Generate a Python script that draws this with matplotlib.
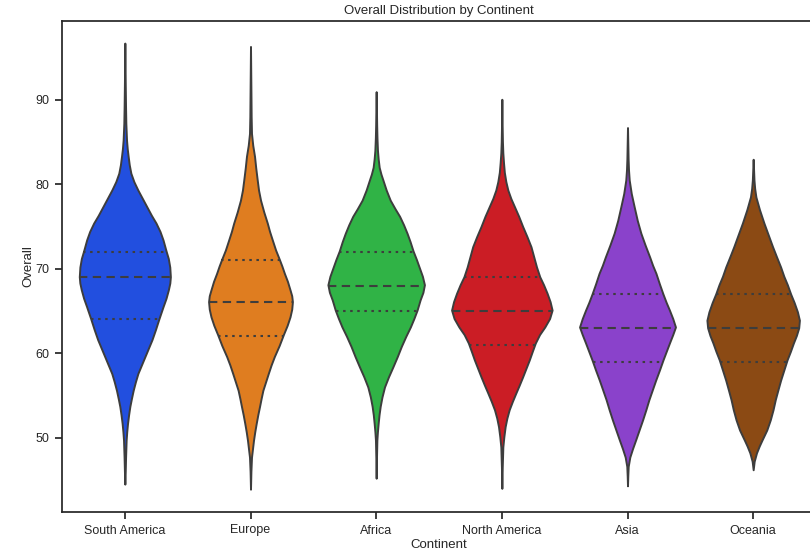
import colorsys
import matplotlib
matplotlib.use("Agg")
import matplotlib.pyplot as plt
import matplotlib.colors as mcolors
import numpy as np

plt.rcParams['font.family'] = ['Liberation Sans', 'DejaVu Sans']

continents = ['South America', 'Europe', 'Africa', 'North America', 'Asia', 'Oceania']

# estimated density profile of "Overall" per continent (relative to the widest)
sa_overall = [44.5, 46.0, 47.7, 49.7, 50.7, 51.7, 52.7, 53.7, 54.6, 55.6, 56.6, 57.6, 58.6, 59.6,
              60.6, 61.6, 62.8, 64.1, 65.5, 66.5, 67.5, 68.3, 69.05, 70.2, 71.2, 72.1, 73.4, 74.4,
              75.4, 76.3, 77.3, 78.3, 79.3, 80.3, 81.3, 82.3, 83.3, 84.2, 85.2, 87.2, 89.2, 92.0, 96.7]
sa_density = [0.0, 0.008, 0.015, 0.026, 0.038, 0.054, 0.075, 0.10, 0.13, 0.166, 0.21, 0.26, 0.33, 0.40,
              0.47, 0.54, 0.61, 0.68, 0.76, 0.82, 0.866, 0.895, 0.906, 0.894, 0.865, 0.82, 0.76, 0.70,
              0.62, 0.53, 0.44, 0.35, 0.26, 0.18, 0.12, 0.088, 0.066, 0.048, 0.034, 0.02, 0.014, 0.008, 0.0]

eu_overall = [43.9, 46.0, 47.7, 48.7, 49.7, 50.7, 51.7, 52.7, 53.7, 54.6, 55.6, 56.6, 57.6, 58.6,
              59.6, 60.9, 62.2, 63.3, 64.3, 65.2, 66.1, 66.8, 67.5, 68.5, 69.45, 70.3, 71.1, 72.2,
              73.4, 74.4, 75.4, 76.7, 78.1, 79.3, 80.5, 81.9, 83.3, 84.6, 86.0, 88.0, 90.0, 96.3]
eu_density = [0.0, 0.008, 0.02, 0.04, 0.06, 0.085, 0.114, 0.145, 0.18, 0.21, 0.246, 0.30, 0.354, 0.41,
              0.474, 0.57, 0.654, 0.73, 0.786, 0.82, 0.834, 0.82, 0.786, 0.735, 0.674, 0.625, 0.574, 0.50,
              0.434, 0.38, 0.334, 0.265, 0.20, 0.16, 0.134, 0.105, 0.08, 0.045, 0.02, 0.013, 0.01, 0.0]

af_overall = [45.2, 47.5, 49.7, 50.7, 51.7, 52.7, 53.7, 54.8, 56.0, 57.2, 58.4, 59.6, 60.8, 62.0,
              63.1, 64.1, 65.1, 66.3, 67.2, 68.1, 69.1, 70.2, 71.1, 72.1, 73.2, 74.2, 75.2, 76.2,
              77.1, 78.1, 79.3, 80.5, 81.2, 82.0, 83.0, 84.0, 85.5, 87.0, 90.95]
af_density = [0.0, 0.006, 0.014, 0.025, 0.04, 0.057, 0.08, 0.115, 0.166, 0.245, 0.334, 0.42, 0.50, 0.59,
              0.68, 0.75, 0.814, 0.874, 0.93, 0.96, 0.92, 0.854, 0.80, 0.734, 0.675, 0.614, 0.545, 0.466,
              0.375, 0.28, 0.20, 0.134, 0.095, 0.06, 0.04, 0.026, 0.016, 0.01, 0.0]

na_overall = [44.0, 46.5, 48.9, 50.1, 51.3, 52.3, 53.3, 54.3, 55.3, 56.2, 57.2, 58.2, 59.2, 60.2,
              61.2, 62.2, 63.1, 64.1, 65.1, 66.1, 67.1, 68.1, 69.05, 70.2, 71.4, 72.6, 73.8, 75.0,
              76.2, 77.3, 78.3, 79.3, 80.3, 81.4, 82.5, 83.7, 85.0, 87.0, 90.05]
na_density = [0.0, 0.008, 0.02, 0.04, 0.066, 0.10, 0.146, 0.21, 0.28, 0.345, 0.414, 0.48, 0.546, 0.605,
              0.666, 0.75, 0.854, 0.95, 1.0, 0.96, 0.90, 0.83, 0.754, 0.69, 0.635, 0.58, 0.50, 0.414,
              0.335, 0.254, 0.18, 0.12, 0.08, 0.05, 0.034, 0.02, 0.012, 0.006, 0.0]

as_overall = [44.3, 45.5, 46.6, 47.7, 48.7, 49.7, 50.9, 52.1, 53.3, 54.5, 55.6, 56.8, 58.0, 59.2,
              60.2, 61.2, 62.2, 63.1, 64.1, 65.1, 66.0, 67.0, 68.2, 69.45, 70.4, 71.4, 72.8, 74.2,
              75.7, 77.3, 78.9, 80.5, 81.7, 83.0, 86.7]
as_density = [0.0, 0.006, 0.014, 0.046, 0.10, 0.16, 0.23, 0.30, 0.365, 0.426, 0.49, 0.56, 0.635, 0.706,
              0.77, 0.834, 0.90, 0.954, 0.90, 0.834, 0.77, 0.706, 0.635, 0.566, 0.50, 0.44, 0.35, 0.266,
              0.195, 0.134, 0.075, 0.034, 0.02, 0.012, 0.0]

oc_overall = [46.2, 47.2, 48.2, 49.0, 49.7, 50.9, 52.1, 53.3, 54.5, 55.6, 56.8, 58.0, 59.2, 60.2,
              61.2, 62.1, 63.0, 63.9, 64.9, 66.0, 67.0, 68.1, 69.1, 70.2, 71.4, 72.6, 74.0, 75.4,
              77.0, 78.5, 79.5, 80.5, 82.95]
oc_density = [0.0, 0.02, 0.066, 0.12, 0.174, 0.27, 0.34, 0.395, 0.44, 0.49, 0.546, 0.61, 0.674, 0.74,
              0.80, 0.86, 0.906, 0.92, 0.88, 0.815, 0.746, 0.68, 0.61, 0.546, 0.465, 0.386, 0.30, 0.214,
              0.125, 0.054, 0.03, 0.016, 0.0]

q1 = [64, 62, 65, 61, 59, 59]
median = [69, 66, 68, 65, 63, 63]
q3 = [72, 71, 72, 69, 67, 67]

profiles = [(sa_overall, sa_density), (eu_overall, eu_density), (af_overall, af_density),
            (na_overall, na_density), (as_overall, as_density), (oc_overall, oc_density)]

# seaborn "bright" palette, desaturated the way violinplot does it
bright = ['#023eff', '#ff7c00', '#1ac938', '#e8000b', '#8b2be2', '#9f4800']
colors = []
for c in bright:
    h, l, s = colorsys.rgb_to_hls(*mcolors.to_rgb(c))
    colors.append(colorsys.hls_to_rgb(h, l, s * 0.75))

line_col = '#3d3d3d'
fig = plt.figure(figsize=(8.1, 5.54), dpi=100)
ax = fig.add_axes([62 / 810, 1 - 512 / 554, (816 - 62) / 810, (512 - 20.7) / 554])

vpstats = []
for i, (ov, dens) in enumerate(profiles):
    vpstats.append({'coords': np.array(ov), 'vals': np.array(dens),
                    'mean': median[i], 'median': median[i],
                    'min': ov[0], 'max': ov[-1]})
positions = np.arange(len(continents))
widths = [0.8 * max(d) for _, d in profiles]
parts = ax.violin(vpstats, positions=positions, widths=widths,
                  showmeans=False, showextrema=False, showmedians=False)
for body, col in zip(parts['bodies'], colors):
    body.set_facecolor(col)
    body.set_edgecolor(line_col)
    body.set_alpha(1)
    body.set_linewidth(1.4)
    body.set_joinstyle('round')

# quartile lines across the violin
for i, (ov, dens) in enumerate(profiles):
    for val, ls in [(q1[i], (0, (1.2, 2.2))), (median[i], (0, (4, 2.6))), (q3[i], (0, (1.2, 2.2)))]:
        hw = 0.4 * np.interp(val, ov, dens)
        ax.plot([i - hw, i + hw], [val, val], color=line_col, lw=1.5, linestyle=ls)

ax.set_xlim(-0.5, 5.5)
ax.set_ylim(41.2, 99.35)
ax.set_yticks([50, 60, 70, 80, 90])
ax.set_xticks(positions)
ax.set_xticklabels(continents)
for sp in ax.spines.values():
    sp.set_color('#262626')
    sp.set_linewidth(1.25)
ax.tick_params(axis='both', length=5, width=1.25, color='#262626', labelsize=9,
               labelcolor='#262626', pad=4)
ax.set_xlabel('Continent', fontsize=9.5, color='#262626', labelpad=2)
ax.set_ylabel('Overall', fontsize=9.5, color='#262626', labelpad=1)
ax.set_title('Overall Distribution by Continent', fontsize=9.5, color='#262626', pad=5)

fig.savefig('out.png', dpi=100)
